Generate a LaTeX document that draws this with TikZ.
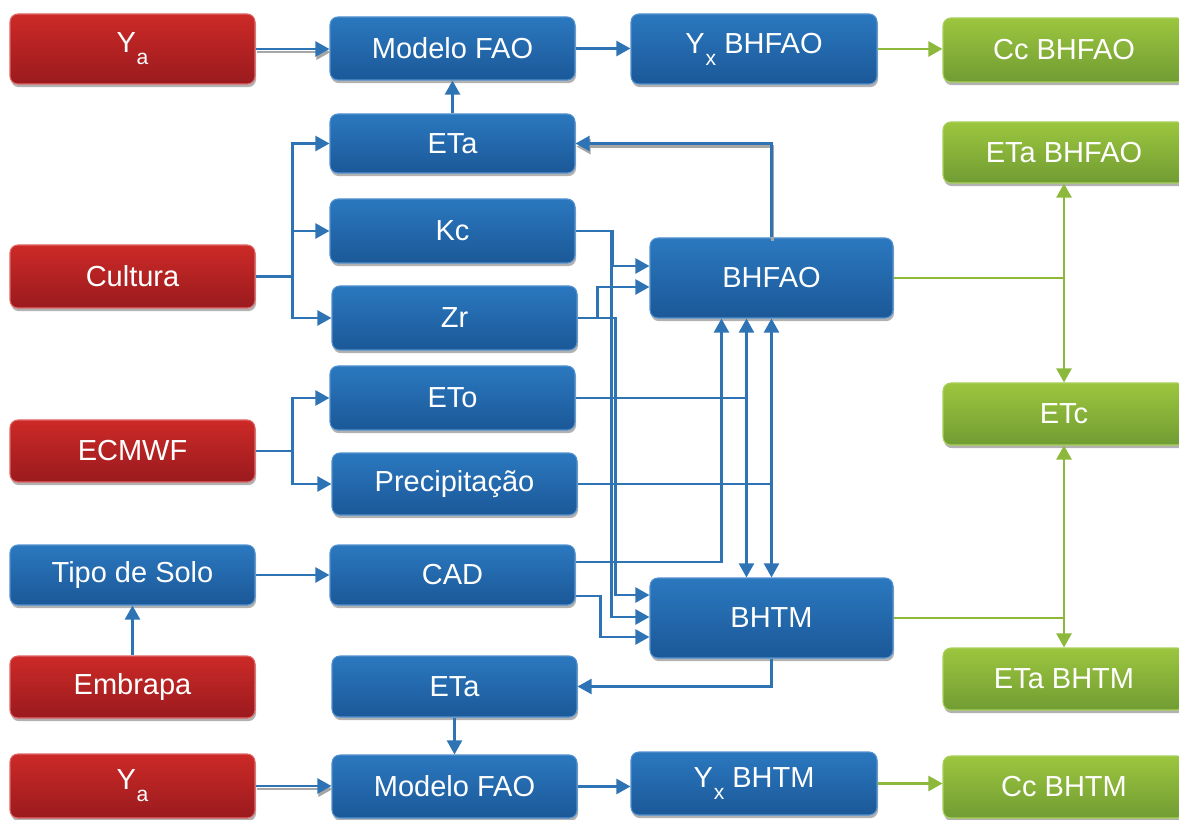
\documentclass[tikz,border=0pt]{standalone}
\usepackage{fontspec}
\setmainfont{Liberation Sans}
\usetikzlibrary{arrows.meta,calc,shadows}

\definecolor{bltop}{HTML}{2B78BF}
\definecolor{blbot}{HTML}{1B5898}
\definecolor{bledge}{HTML}{5291D0}
\definecolor{rdtop}{HTML}{CC2A27}
\definecolor{rdbot}{HTML}{9A1A1E}
\definecolor{rdedge}{HTML}{E06666}
\definecolor{grtop}{HTML}{9CC63E}
\definecolor{grbot}{HTML}{719C33}
\definecolor{gredge}{HTML}{A8D05A}
\definecolor{linkblue}{HTML}{2E74B5}
\definecolor{linkgreen}{HTML}{8CB83C}

\tikzset{
  >={Triangle[length=8pt,width=8.5pt]},
  boxbase/.style={rounded corners=4.5pt, text=white, inner sep=0pt,
    font=\fontsize{16.5}{18}\selectfont, line width=0.6pt,
    drop shadow={shadow xshift=0.6pt, shadow yshift=-1.8pt, fill=black!60, opacity=0.5}},
  bluebox/.style={boxbase, draw=bledge, top color=bltop, bottom color=blbot},
  redbox/.style={boxbase, draw=rdedge, top color=rdtop, bottom color=rdbot},
  greenbox/.style={boxbase, draw=gredge, top color=grtop, bottom color=grbot},
  conn/.style={draw=linkblue, line width=1.5pt, ->},
  link/.style={draw=linkblue, line width=1.5pt},
  shadowed/.style={preaction={draw=black!35, line width=1.5pt,
    transform canvas={xshift=0.6pt,yshift=-1.8pt}}},
  gconn/.style={draw=linkgreen, line width=1.6pt, ->},
  glink/.style={draw=linkgreen, line width=1.6pt},
}

% box from pixel corners (x1,y1)-(x2,y2)
\newcommand{\bx}[7]{%
  \node[#1, minimum width={(#5-#3)*0.02cm}, minimum height={(#6-#4)*0.02cm}]
    (#2) at ({(#3+#5)/2},{(#4+#6)/2}) {#7};}
\newcommand{\lowsub}[1]{\kern0.5pt\raisebox{-0.42em}{\fontsize{12}{12}\selectfont #1}}

\begin{document}
\begin{tikzpicture}[x=0.02cm,y=-0.02cm]
\useasboundingbox (0,0) rectangle (1179,820);

% left column
\bx{redbox}{ya1}{10}{14}{255}{84}{Y\lowsub{a}}
\bx{redbox}{cult}{10}{245}{255}{308}{Cultura}
\bx{redbox}{ecmwf}{10}{420}{255}{482}{ECMWF}
\bx{bluebox}{solo}{10}{545}{255}{605}{Tipo de Solo}
\bx{redbox}{embr}{10}{656}{255}{718}{Embrapa}
\bx{redbox}{ya2}{10}{754}{255}{818}{Y\lowsub{a}}

% second column
\bx{bluebox}{mf1}{330}{17}{575}{80}{Modelo FAO}
\bx{bluebox}{eta1}{330}{114}{575}{173}{ETa}
\bx{bluebox}{kc}{330}{199}{575}{263}{Kc}
\bx{bluebox}{zr}{332}{286}{577}{350}{Zr}
\bx{bluebox}{eto}{330}{366}{575}{430}{ETo}
\bx{bluebox}{prec}{332}{453}{577}{515}{Precipitação}
\bx{bluebox}{cad}{330}{545}{575}{605}{CAD}
\bx{bluebox}{eta2}{332}{656}{577}{717}{ETa}
\bx{bluebox}{mf2}{332}{755}{577}{818}{Modelo FAO}

% water balance models and yields
\bx{bluebox}{yx1}{631}{14}{877}{84}{Y\lowsub{x} BHFAO}
\bx{bluebox}{bhfao}{650}{238}{893}{318}{BHFAO}
\bx{bluebox}{bhtm}{650}{578}{893}{658}{BHTM}
\bx{bluebox}{yx2}{631}{752}{877}{815}{Y\lowsub{x} BHTM}

% outputs
\bx{greenbox}{cc1}{943}{18}{1185}{82}{Cc BHFAO}
\bx{greenbox}{etab}{943}{122}{1185}{183}{ETa BHFAO}
\bx{greenbox}{etc}{943}{383}{1185}{445}{ETc}
\bx{greenbox}{etam}{943}{648}{1185}{710}{ETa BHTM}
\bx{greenbox}{cc2}{943}{756}{1185}{818}{Cc BHTM}

% top chain
\draw[conn,shadowed] (ya1.east) -- (ya1.east -| mf1.west);
\draw[conn] (mf1.east) -- (mf1.east -| yx1.west);
\draw[gconn] (yx1.east) -- (yx1.east -| cc1.west);
\draw[conn] (eta1.north) -- (mf1.south);

% crop inputs
\draw[conn] (cult.east) -- ++(37,0) |- (eta1.west);
\draw[conn] (cult.east) -- ++(37,0) |- (kc.west);
\draw[conn] (cult.east) -- ++(37,0) |- (zr.west);

% Kc and Zr into both balances
\draw[conn] (kc.east) -- ++(37,0) |- ($(bhfao.west)+(0,-12)$);
\draw[conn] ($(kc.east)+(36,0)$) |- ($(bhtm.west)+(0,-1)$);
\draw[conn] (zr.east) -- ++(20,0) |- ($(bhfao.west)+(0,9)$);
\draw[conn] (zr.east) -- ++(38,0) |- ($(bhtm.west)+(0,-23)$);

% climate inputs
\coordinate (etoup) at ($(bhfao.south west)+(97,0)$);
\coordinate (etodn) at ($(bhtm.north west)+(97,0)$);
\draw[conn] (ecmwf.east) -- ++(37,0) |- (eto.west);
\draw[conn] (ecmwf.east) -- ++(37,0) |- (prec.west);
\draw[link] (eto.east) -- (eto.east -| etoup);
\draw[<->, link] (etoup) -- (etodn);
\draw[link] (prec.east) -- (prec.east -| bhfao.south);
\draw[<->, link] (bhfao.south) -- (bhtm.north);

% soil inputs
\draw[conn] (embr.north) -- (solo.south);
\draw[conn] (solo.east) -- (solo.east -| cad.west);
\draw[conn] ($(cad.east)+(0,-13)$) -| ($(bhfao.south west)+(72,0)$);
\draw[conn] ($(cad.east)+(0,21)$) -- ++(25,0) |- ($(bhtm.west)+(0,19)$);

% actual evapotranspiration feedback
\draw[conn,shadowed] (bhfao.north) |- (eta1.east);
\draw[conn] (bhtm.south) |- (eta2.east);

% bottom chain
\draw[conn] (eta2.south) -- (mf2.north);
\draw[conn,shadowed] (ya2.east) -- (ya2.east -| mf2.west);
\draw[conn] (mf2.east) -- (mf2.east -| yx2.west);
\draw[gconn] (yx2.east) -- (yx2.east -| cc2.west);

% outputs of the balances
\draw[glink] (bhfao.east) -- (bhfao.east -| etab.south);
\draw[gconn,<->] (etab.south) -- (etc.north);
\draw[glink] (bhtm.east) -- (bhtm.east -| etc.south);
\draw[gconn,<->] (etc.south) -- (etam.north);
\end{tikzpicture}
\end{document}
